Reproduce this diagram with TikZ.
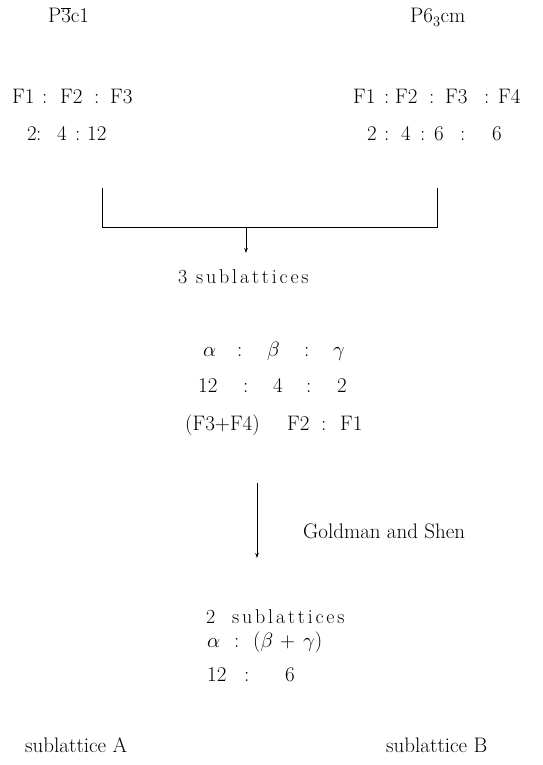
\documentclass[tikz,border=0pt]{standalone}
\usepackage{fontspec}
\newfontfamily\spacedfont[LetterSpace=14]{Latin Modern Roman}
\usetikzlibrary{arrows.meta}
\newcommand{\putat}[2]{\makebox[0pt][l]{\hspace*{#1}#2}}
\newcommand{\lastat}[2]{\hspace*{#1}#2}
\begin{document}
\begin{tikzpicture}[x=1pt,y=-1pt,
  lbl/.style={anchor=base west, inner sep=0pt, font=\fontsize{21}{25}\selectfont},
  spaced/.style={lbl, font=\spacedfont\fontsize{20}{24}\selectfont},
  conn/.style={line width=0.9pt},
  arr/.style={conn,-{Stealth[length=5pt,width=3.5pt]}}]
\useasboundingbox (0,0) rectangle (542,765);
% headers
\node[lbl] (g1) at (48,23) {P$\overline{3}$c1};
\node[lbl] (g2) at (410,23) {P6$_{3}$cm};
% left group
\node[lbl] (l1) at (12,104) {\putat{0pt}{F1}\putat{30pt}{:}\putat{48pt}{F2}\putat{82pt}{:}\lastat{98pt}{F3}};
\node[lbl] (l2) at (27,140) {\putat{0pt}{2}\putat{9pt}{:}\putat{30pt}{4}\putat{48pt}{:}\lastat{60pt}{12}};
% right group
\node[lbl] (r1) at (353,104) {\putat{0pt}{F1}\putat{31pt}{:}\putat{42pt}{F2}\putat{76pt}{:}\putat{92pt}{F3}\putat{131pt}{:}\lastat{145pt}{F4}};
\node[lbl] (r2) at (367,140) {\putat{0pt}{2}\putat{17pt}{:}\putat{34pt}{4}\putat{53pt}{:}\putat{67pt}{6}\putat{93pt}{:}\lastat{125pt}{6}};
% bracket
\coordinate (btl) at (102,188);
\coordinate (bbl) at (102,227);
\coordinate (bbr) at (437,227);
\coordinate (btr) at (437,188);
\coordinate (bm) at (246,227);
\coordinate (bmt) at (246,253);
\draw[conn] (btl) -- (bbl) -- (bbr) -- (btr);
\draw[arr] (bm) -- (bmt);
\node[spaced] (s3) at (178,283) {3 sublattices};
% three sublattices
\node[lbl] (abc) at (203,356) {\putat{0pt}{$\alpha$}\putat{34pt}{:}\putat{64pt}{$\beta$}\putat{101pt}{:}\lastat{130pt}{$\gamma$}};
\node[lbl] (n3) at (198,392) {\putat{0pt}{12}\putat{45pt}{:}\putat{75pt}{4}\putat{108pt}{:}\lastat{139pt}{2}};
\node[lbl] (ff) at (185,430) {\putat{0pt}{(F3+F4)}\putat{102pt}{F2}\putat{136pt}{:}\lastat{155pt}{F1}};
% arrow Goldman and Shen
\coordinate (at) at (257,483);
\coordinate (ab) at (257,558);
\draw[arr] (at) -- (ab);
\node[lbl] (gs) at (303,538) {Goldman and Shen};
% two sublattices
\node[spaced] (s2) at (206,623) {\putat{0pt}{2}\lastat{26pt}{sublattices}};
\node[lbl] (ab2) at (207,647) {\putat{0pt}{$\alpha$}\putat{27pt}{:}\putat{46pt}{($\beta$}\putat{73pt}{$+$}\lastat{96pt}{$\gamma$)}};
\node[lbl] (n2) at (207,681) {\putat{0pt}{12}\putat{37pt}{:}\lastat{78pt}{6}};
% bottom
\node[lbl] (sa) at (25,752) {sublattice A};
\node[lbl] (sb) at (386,752) {sublattice B};
\end{tikzpicture}
\end{document}
